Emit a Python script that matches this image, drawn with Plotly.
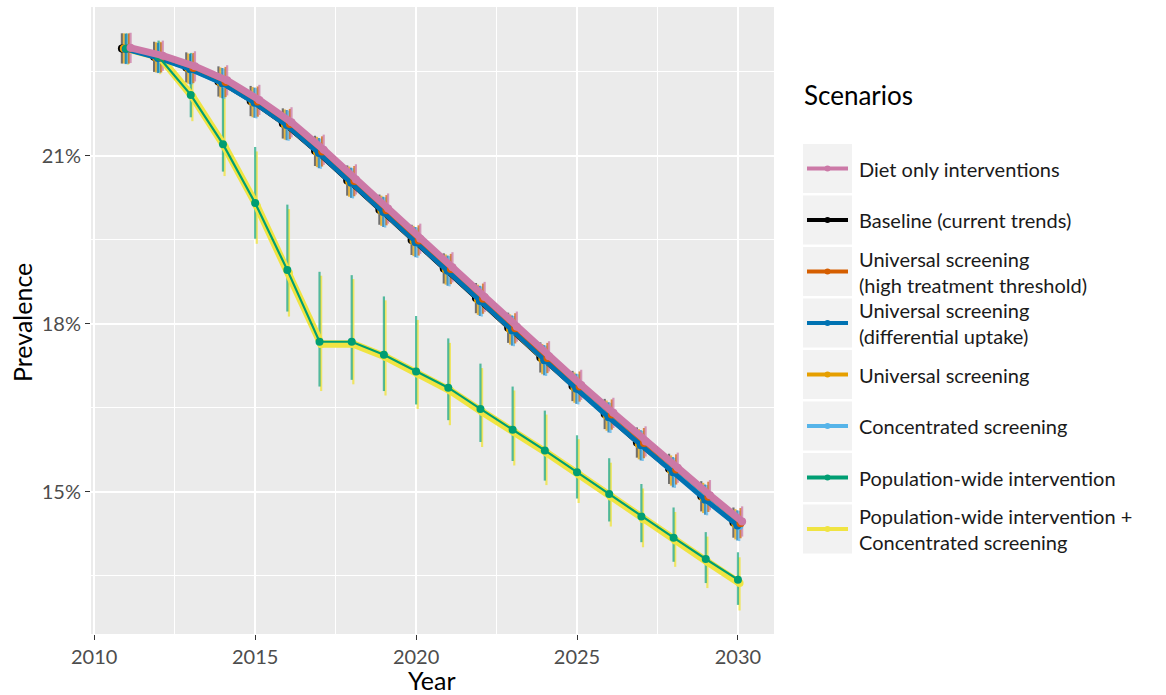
import plotly.graph_objects as go

# ---- data -------------------------------------------------------------
years = [2011, 2012, 2013, 2014, 2015, 2016, 2017, 2018, 2019, 2020,
         2021, 2022, 2023, 2024, 2025, 2026, 2027, 2028, 2029, 2030]

diet = [22.93, 22.79, 22.60, 22.35, 22.00, 21.60, 21.11, 20.58, 20.06, 19.52,
        19.01, 18.48, 17.95, 17.42, 16.91, 16.41, 15.90, 15.43, 14.94, 14.47]
baseline = [22.92, 22.77, 22.58, 22.33, 21.98, 21.58, 21.09, 20.56, 20.04, 19.50,
            18.99, 18.46, 17.93, 17.40, 16.89, 16.39, 15.88, 15.41, 14.92, 14.45]
univ_high = [22.92, 22.76, 22.57, 22.32, 21.97, 21.57, 21.08, 20.55, 20.03, 19.49,
             18.98, 18.45, 17.92, 17.39, 16.88, 16.38, 15.87, 15.40, 14.91, 14.44]
univ_diff = [22.91, 22.75, 22.55, 22.30, 21.95, 21.55, 21.05, 20.52, 20.00, 19.46,
             18.95, 18.41, 17.88, 17.35, 16.84, 16.33, 15.83, 15.35, 14.86, 14.40]
univ = [22.92, 22.76, 22.56, 22.31, 21.96, 21.56, 21.07, 20.54, 20.02, 19.48,
        18.97, 18.43, 17.90, 17.37, 16.86, 16.36, 15.85, 15.38, 14.89, 14.42]
conc = [22.91, 22.75, 22.55, 22.29, 21.94, 21.54, 21.04, 20.51, 19.99, 19.45,
        18.94, 18.40, 17.87, 17.34, 16.83, 16.32, 15.82, 15.34, 14.85, 14.39]
pop = [22.92, 22.77, 22.09, 21.21, 20.16, 18.96, 17.68, 17.68, 17.45, 17.15,
       16.86, 16.48, 16.11, 15.74, 15.35, 14.96, 14.56, 14.18, 13.80, 13.43]
pop_conc = [22.91, 22.76, 22.06, 21.17, 20.11, 18.91, 17.64, 17.64, 17.41, 17.11,
            16.81, 16.43, 16.07, 15.70, 15.31, 14.91, 14.51, 14.13, 13.75, 13.37]

# uncertainty intervals (percentage points above / below the estimate)
err_main = [0.27, 0.27, 0.27, 0.27, 0.27, 0.27, 0.27, 0.27, 0.27, 0.27,
            0.27, 0.27, 0.27, 0.27, 0.27, 0.27, 0.27, 0.27, 0.27, 0.27]
pop_up = [0.27, 0.29, 0.75, 1.05, 1.00, 1.17, 1.25, 1.19, 1.04, 0.99,
          0.88, 0.81, 0.77, 0.71, 0.66, 0.64, 0.58, 0.54, 0.48, 0.49]
pop_lo = [0.27, 0.28, 0.40, 0.49, 0.64, 0.74, 0.80, 0.68, 0.65, 0.59,
          0.58, 0.59, 0.56, 0.54, 0.47, 0.49, 0.46, 0.43, 0.43, 0.45]
popc_up = [0.26, 0.28, 0.72, 1.02, 0.97, 1.14, 1.22, 1.16, 1.01, 0.96,
           0.85, 0.78, 0.74, 0.68, 0.63, 0.61, 0.55, 0.51, 0.45, 0.46]
popc_lo = [0.28, 0.30, 0.44, 0.53, 0.68, 0.78, 0.84, 0.72, 0.69, 0.63,
           0.62, 0.63, 0.60, 0.58, 0.51, 0.53, 0.50, 0.47, 0.47, 0.49]

scenario_names = [
    "Diet only interventions",
    "Baseline (current trends)",
    "Universal screening<br>(high treatment threshold)",
    "Universal screening<br>(differential uptake)",
    "Universal screening",
    "Concentrated screening",
    "Population-wide intervention",
    "Population-wide intervention +<br>Concentrated screening",
]
scenario_colors = ["#CC79A7", "#000000", "#D55E00", "#0072B2",
                   "#E69F00", "#56B4E9", "#009E73", "#F0E442"]

# per-scenario: values, upper err, lower err, dodge, line width, bar rgba
series = {
    "Diet only interventions": (diet, err_main, err_main, 0.13, 7, "rgba(204,121,167,0.75)"),
    "Baseline (current trends)": (baseline, err_main, err_main, -0.14, 3.5, "rgba(60,60,60,0.7)"),
    "Universal screening (high treatment threshold)": (univ_high, err_main, err_main, 0.08, 2.5, "rgba(213,94,0,0.7)"),
    "Universal screening (differential uptake)": (univ_diff, err_main, err_main, -0.02, 5, "rgba(0,114,178,0.7)"),
    "Universal screening": (univ, err_main, err_main, -0.08, 3, "rgba(230,159,0,0.7)"),
    "Concentrated screening": (conc, err_main, err_main, 0.04, 5.5, "rgba(86,180,233,0.75)"),
    "Population-wide intervention": (pop, pop_up, pop_lo, 0.0, 2.2, "rgba(0,158,115,0.65)"),
    "Population-wide intervention + Concentrated screening": (pop_conc, popc_up, popc_lo, 0.05, 7.5, "rgba(240,228,66,0.8)"),
}
colors = dict(zip(series.keys(), scenario_colors))

fig = go.Figure()

# error bars first, so the trend lines sit on top
bar_order = ["Population-wide intervention + Concentrated screening",
             "Population-wide intervention",
             "Baseline (current trends)",
             "Universal screening",
             "Universal screening (differential uptake)",
             "Concentrated screening",
             "Universal screening (high treatment threshold)",
             "Diet only interventions"]
for name in bar_order:
    vals, up, lo, dx, lw, bar_col = series[name]
    fig.add_trace(go.Scatter(
        x=[y + dx for y in years], y=vals, mode="markers",
        marker=dict(size=1, opacity=0),
        error_y=dict(type="data", symmetric=False, array=up, arrayminus=lo,
                     width=0, thickness=2.2, color=bar_col),
        showlegend=False, hoverinfo="skip"))

line_order = ["Population-wide intervention + Concentrated screening",
              "Baseline (current trends)",
              "Universal screening",
              "Concentrated screening",
              "Universal screening (differential uptake)",
              "Universal screening (high treatment threshold)",
              "Population-wide intervention",
              "Diet only interventions"]
for name in line_order:
    vals, up, lo, dx, lw, bar_col = series[name]
    fig.add_trace(go.Scatter(
        x=[y + dx for y in years], y=vals, mode="lines+markers", name=name,
        line=dict(color=colors[name], width=lw),
        marker=dict(color=colors[name], size=8),
        showlegend=False))

# ---- layout -----------------------------------------------------------
L, R, T, B = 91, 774, 7, 634
W, H = R - L, B - T


def px(x):
    return (x - L) / W


def py(y):
    return (B - y) / H


FONT = "Lato"
fig.update_layout(
    width=1166, height=695,
    margin=dict(l=L, r=1166 - R, t=T, b=695 - B),
    paper_bgcolor="white", plot_bgcolor="#EBEBEB",
    font=dict(family=FONT, color="#4D4D4D"),
    showlegend=False,
)
fig.update_xaxes(
    range=[2009.9, 2031.12], tickmode="linear", tick0=2010, dtick=5,
    showgrid=True, gridcolor="white", gridwidth=1.6,
    minor=dict(tick0=2010, dtick=2.5, showgrid=True, gridcolor="white", gridwidth=0.8),
    ticks="outside", ticklen=5, tickwidth=1.4, tickcolor="#333333",
    tickfont=dict(size=20, color="#4D4D4D", family=FONT),
    zeroline=False, showline=False,
)
fig.update_yaxes(
    range=[12.46, 23.66], tickmode="linear", tick0=15, dtick=3, ticksuffix="%",
    showgrid=True, gridcolor="white", gridwidth=1.6,
    minor=dict(tick0=15, dtick=1.5, showgrid=True, gridcolor="white", gridwidth=0.8),
    ticks="outside", ticklen=5, tickwidth=1.4, tickcolor="#333333",
    tickfont=dict(size=20, color="#4D4D4D", family=FONT),
    zeroline=False, showline=False,
)

annotations = [
    dict(text="Year", x=px(432), y=py(680), xref="paper", yref="paper",
         showarrow=False, xanchor="center", yanchor="middle",
         font=dict(size=25, color="black", family=FONT)),
    dict(text="Prevalence", x=px(22), y=py(323), xref="paper", yref="paper",
         showarrow=False, xanchor="center", yanchor="middle", textangle=-90,
         font=dict(size=25, color="black", family=FONT)),
    dict(text="Scenarios", x=px(802), y=py(95), xref="paper", yref="paper",
         showarrow=False, xanchor="left", yanchor="middle",
         font=dict(size=26, color="black", family=FONT)),
]
shapes = []

# legend keys drawn as ggplot-style grey tiles
key_top, key_h, key_pitch = 144, 49, 51.5
for i, (label, col) in enumerate(zip(scenario_names, scenario_colors)):
    top = key_top + i * key_pitch
    cy = top + key_h / 2
    shapes.append(dict(type="rect", xref="paper", yref="paper",
                       x0=px(803), x1=px(852), y0=py(top), y1=py(top + key_h),
                       fillcolor="#F2F2F2", line=dict(width=0), layer="above"))
    shapes.append(dict(type="line", xref="paper", yref="paper",
                       x0=px(807), x1=px(848), y0=py(cy), y1=py(cy),
                       line=dict(color=col, width=4), layer="above"))
    shapes.append(dict(type="circle", xref="paper", yref="paper",
                       x0=px(824.5), x1=px(830.5), y0=py(cy - 3), y1=py(cy + 3),
                       fillcolor=col, line=dict(width=0), layer="above"))
    annotations.append(dict(text=label, x=px(857), y=py(cy), xref="paper", yref="paper",
                            showarrow=False, xanchor="left", yanchor="middle", align="left",
                            font=dict(size=20, color="#1A1A1A", family=FONT)))

fig.update_layout(annotations=annotations, shapes=shapes)
fig.write_html("out.html")
